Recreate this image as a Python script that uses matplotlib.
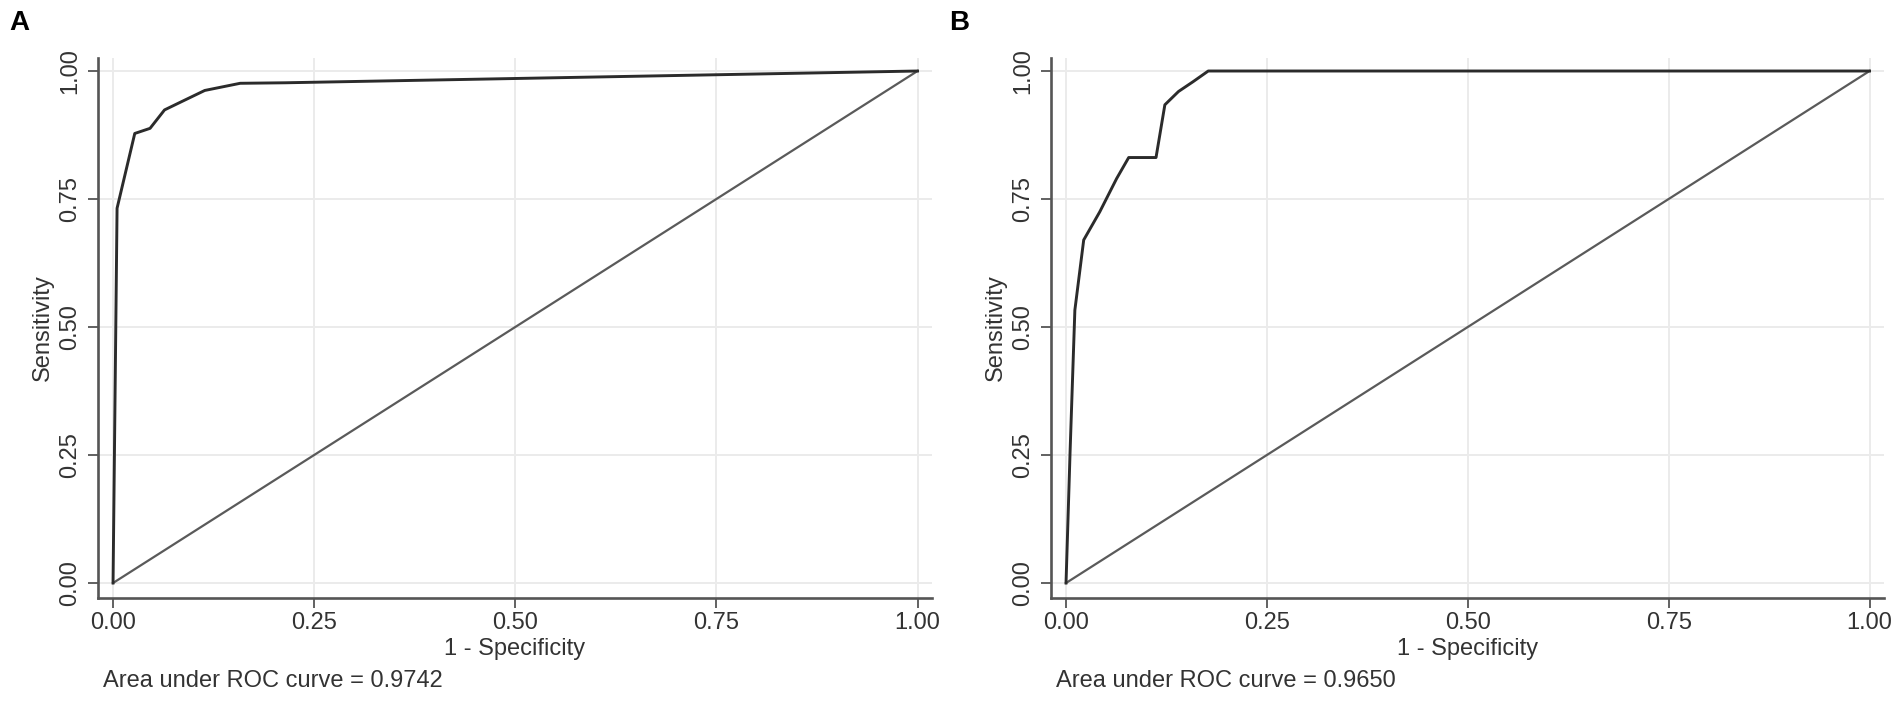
import matplotlib
matplotlib.use('Agg')
import matplotlib.pyplot as plt

# ROC points
fpr_a = [0.0, 0.005, 0.027, 0.046, 0.064, 0.085, 0.114, 0.158, 0.214, 1.0]
tpr_a = [0.0, 0.732, 0.878, 0.888, 0.924, 0.940, 0.962, 0.976, 0.977, 1.0]
auc_a = 0.9742

fpr_b = [0.0, 0.005, 0.011, 0.022, 0.042, 0.063, 0.078, 0.112, 0.123, 0.140, 0.158, 0.177, 1.0]
tpr_b = [0.0, 0.254, 0.533, 0.670, 0.725, 0.790, 0.831, 0.831, 0.934, 0.960, 0.979, 1.0, 1.0]
auc_b = 0.9650

ticks = [0.0, 0.25, 0.5, 0.75, 1.0]
tick_labels = ['0.00', '0.25', '0.50', '0.75', '1.00']

plt.rcParams['font.family'] = ['Liberation Sans', 'DejaVu Sans']

W, H = 1901, 702
fig = plt.figure(figsize=(W / 100, H / 100), dpi=100)

panels = [('A', 98, 932, fpr_a, tpr_a, auc_a, 9),
          ('B', 1051, 1884, fpr_b, tpr_b, auc_b, 949)]

txt = '#333333'
for name, x0, x1, fpr, tpr, auc, lx in panels:
    ax = fig.add_axes([x0 / W, (H - 598) / H, (x1 - x0) / W, (598 - 58) / H])
    ax.set_xlim(-0.0187, 1.018)
    ax.set_ylim(-0.0293, 1.0254)
    ax.set_xticks(ticks)
    ax.set_yticks(ticks)
    ax.set_xticklabels(tick_labels)
    ax.set_yticklabels(tick_labels, rotation=90, va='center')
    ax.grid(True, color='#ebebeb', linewidth=1.4)
    ax.set_axisbelow(True)
    for s in ['top', 'right']:
        ax.spines[s].set_visible(False)
    for s in ['left', 'bottom']:
        ax.spines[s].set_color('#555555')
        ax.spines[s].set_linewidth(1.9)
    ax.tick_params(direction='out', length=7, width=1.3, color='#555555',
                   labelsize=17, labelcolor=txt)
    ax.tick_params(axis='x', pad=3)
    ax.tick_params(axis='y', pad=5)

    ax.plot([0, 1], [0, 1], color='#5a5a5a', linewidth=1.6)
    ax.plot(fpr, tpr, color='#2b2b2b', linewidth=2.1)

    ax.set_xlabel('1 - Specificity', fontsize=17, color=txt, labelpad=3)
    ax.set_ylabel('Sensitivity', fontsize=17, color=txt, labelpad=4)

    fig.text((x0 + 5) / W, (H - 681) / H, 'Area under ROC curve = {:.4f}'.format(auc),
             fontsize=17, color=txt, va='center', ha='left')
    fig.text(lx / W, (H - 23) / H, name, fontsize=20, fontweight='bold',
             color='black', va='center', ha='left')

fig.savefig('out.png', dpi=100)
